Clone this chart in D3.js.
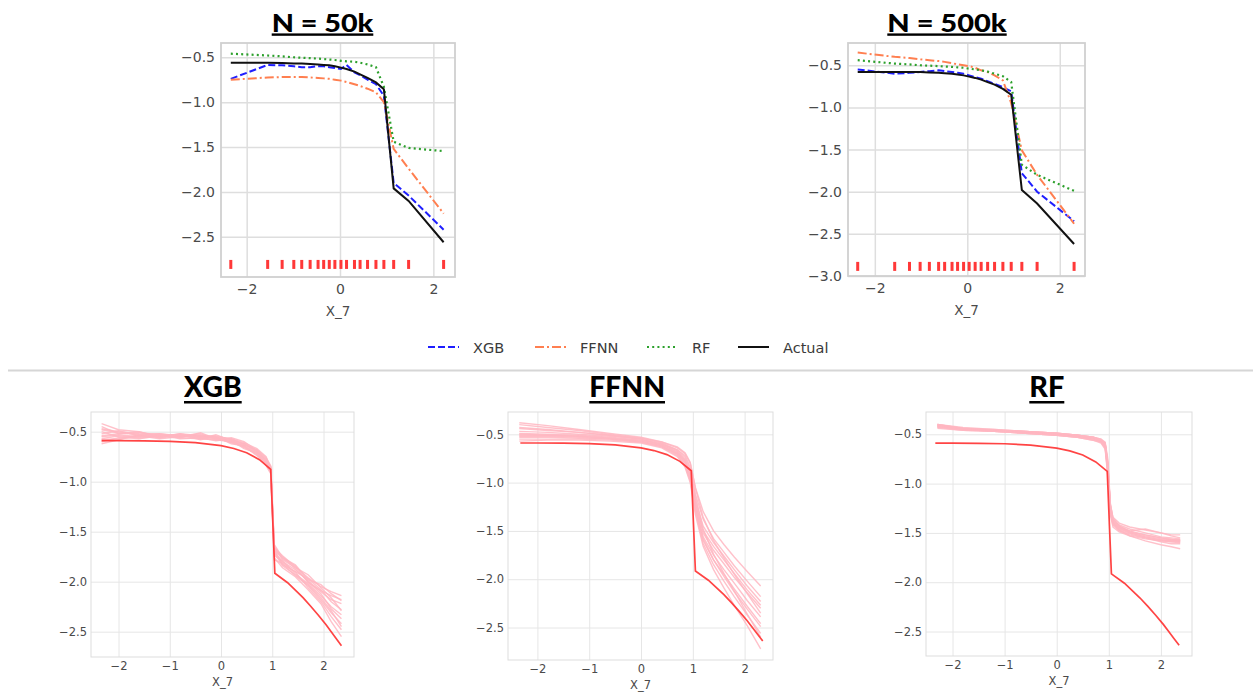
<!DOCTYPE html>
<html><head><meta charset="utf-8">
<script src="https://cdn.jsdelivr.net/npm/d3@7"></script>
<style>
html,body{margin:0;padding:0;background:#fff;}
svg{display:block;}
</style></head>
<body>
<svg id="chart" width="1253" height="692"></svg>
<script>
// ---------------- DATA ----------------
// Top panels: PDP grid points (rug) and curves
const grid50 = [-2.34,-1.55,-1.24,-0.99,-0.82,-0.64,-0.47,-0.35,-0.23,-0.11,0.02,0.14,0.31,0.43,0.59,0.77,0.94,1.15,1.47,2.22];
const actual50 = [-0.56,-0.56,-0.565,-0.57,-0.57,-0.575,-0.58,-0.585,-0.59,-0.60,-0.615,-0.63,-0.66,-0.69,-0.73,-0.78,-0.855,-1.96,-2.10,-2.56];
const xgb50    = [-0.74,-0.585,-0.59,-0.60,-0.61,-0.61,-0.60,-0.60,-0.61,-0.62,-0.63,-0.585,-0.67,-0.70,-0.75,-0.80,-0.93,-1.90,-2.04,-2.42];
const ffnn50   = [-0.75,-0.725,-0.72,-0.72,-0.72,-0.725,-0.73,-0.735,-0.74,-0.75,-0.76,-0.775,-0.80,-0.82,-0.85,-0.89,-1.00,-1.52,-1.74,-2.24];
const rf50     = [-0.46,-0.48,-0.49,-0.50,-0.505,-0.51,-0.515,-0.52,-0.525,-0.53,-0.54,-0.545,-0.55,-0.56,-0.58,-0.61,-0.83,-1.44,-1.51,-1.545];

const grid500 = [-2.37,-1.57,-1.25,-1.02,-0.82,-0.62,-0.49,-0.33,-0.21,-0.08,0.04,0.17,0.30,0.44,0.59,0.77,0.95,1.18,1.51,2.31];
const actual500 = [-0.58,-0.58,-0.58,-0.58,-0.585,-0.59,-0.595,-0.60,-0.61,-0.62,-0.635,-0.65,-0.67,-0.70,-0.73,-0.78,-0.85,-1.98,-2.14,-2.62];
const xgb500    = [-0.55,-0.60,-0.59,-0.58,-0.57,-0.56,-0.57,-0.58,-0.59,-0.60,-0.62,-0.64,-0.66,-0.69,-0.72,-0.76,-0.81,-1.78,-2.00,-2.35];
const ffnn500   = [-0.35,-0.40,-0.415,-0.43,-0.44,-0.45,-0.46,-0.475,-0.49,-0.50,-0.51,-0.53,-0.56,-0.58,-0.62,-0.68,-0.95,-1.51,-1.80,-2.38];
const rf500     = [-0.44,-0.48,-0.49,-0.50,-0.505,-0.51,-0.515,-0.52,-0.525,-0.53,-0.54,-0.55,-0.56,-0.575,-0.60,-0.63,-0.70,-1.68,-1.80,-1.99];

const seriesNames = ["XGB","FFNN","RF","Actual"];
const topTitles = ["N = 50k","N = 500k"];
const bottomTitles = ["XGB","FFNN","RF"];
const xLabel = "X_7";
const xTicksTop = [-2,0,2];
const yTicks50 = [-0.5,-1.0,-1.5,-2.0,-2.5];
const yTicks500 = [-0.5,-1.0,-1.5,-2.0,-2.5,-3.0];
const xTicksBottom = [-2,-1,0,1,2];
const yTicksBottom = [-0.5,-1.0,-1.5,-2.0,-2.5];

// Bottom panels: true effect curve
const actX = [-2.33,-2.0,-1.5,-1.0,-0.5,0,0.25,0.5,0.75,0.97,1.05,1.3,1.45,1.6,1.75,1.9,2.05,2.15,2.25,2.35];
const actY = [-0.59,-0.59,-0.592,-0.596,-0.61,-0.64,-0.668,-0.71,-0.78,-0.877,-1.915,-2.01,-2.085,-2.16,-2.245,-2.335,-2.43,-2.50,-2.57,-2.64];

// Bottom panels: repeated fits
const xgbRunX = [-2.33,-2.0,-1.6,-1.2,-0.8,-0.4,-0.1,0.2,0.45,0.7,0.88,0.97,1.04,1.2,1.45,1.7,1.95,2.15,2.35];
const xgbRuns = [
 [-0.47,-0.50,-0.52,-0.53,-0.54,-0.55,-0.56,-0.58,-0.62,-0.70,-0.78,-0.86,-1.66,-1.74,-1.85,-1.96,-2.05,-2.10,-2.14],
 [-0.55,-0.53,-0.55,-0.54,-0.53,-0.57,-0.58,-0.60,-0.64,-0.71,-0.80,-0.88,-1.70,-1.80,-1.88,-1.99,-2.10,-2.18,-2.22],
 [-0.42,-0.48,-0.50,-0.55,-0.52,-0.54,-0.55,-0.57,-0.63,-0.68,-0.76,-0.84,-1.63,-1.76,-1.83,-1.98,-2.03,-2.12,-2.19],
 [-0.60,-0.56,-0.54,-0.52,-0.55,-0.53,-0.56,-0.61,-0.65,-0.73,-0.82,-0.90,-1.74,-1.79,-1.92,-2.02,-2.14,-2.25,-2.33],
 [-0.50,-0.55,-0.57,-0.54,-0.56,-0.51,-0.57,-0.59,-0.62,-0.69,-0.77,-0.85,-1.68,-1.83,-1.90,-1.97,-2.08,-2.20,-2.28],
 [-0.62,-0.58,-0.53,-0.56,-0.54,-0.55,-0.54,-0.58,-0.66,-0.72,-0.83,-0.91,-1.78,-1.82,-1.94,-2.04,-2.18,-2.31,-2.42],
 [-0.45,-0.52,-0.51,-0.53,-0.57,-0.56,-0.59,-0.57,-0.61,-0.67,-0.75,-0.87,-1.65,-1.78,-1.86,-1.93,-2.06,-2.16,-2.29],
 [-0.57,-0.54,-0.56,-0.55,-0.53,-0.58,-0.55,-0.62,-0.64,-0.74,-0.81,-0.89,-1.72,-1.81,-1.90,-2.06,-2.20,-2.35,-2.48],
 [-0.52,-0.49,-0.54,-0.57,-0.55,-0.54,-0.57,-0.60,-0.63,-0.70,-0.79,-0.86,-1.69,-1.75,-1.87,-2.00,-2.12,-2.27,-2.37],
 [-0.58,-0.57,-0.55,-0.53,-0.56,-0.57,-0.53,-0.59,-0.67,-0.71,-0.84,-0.92,-1.76,-1.86,-1.95,-2.08,-2.22,-2.40,-2.55],
 [-0.48,-0.51,-0.53,-0.52,-0.54,-0.52,-0.58,-0.56,-0.60,-0.69,-0.80,-0.85,-1.67,-1.77,-1.84,-2.01,-2.09,-2.14,-2.18],
 [-0.54,-0.52,-0.50,-0.56,-0.52,-0.56,-0.56,-0.61,-0.65,-0.72,-0.78,-0.88,-1.71,-1.84,-1.93,-2.03,-2.16,-2.29,-2.45]
];
const ffnnRunX = [-2.35,-1.8,-1.2,-0.6,0,0.4,0.7,0.85,0.95,1.05,1.2,1.4,1.6,1.8,2.05,2.31];
const ffnnRuns = [
 [-0.38,-0.41,-0.45,-0.49,-0.53,-0.58,-0.64,-0.70,-0.80,-1.05,-1.30,-1.50,-1.64,-1.77,-1.92,-2.07],
 [-0.40,-0.43,-0.46,-0.50,-0.54,-0.59,-0.66,-0.74,-0.86,-1.12,-1.38,-1.58,-1.72,-1.86,-2.02,-2.18],
 [-0.43,-0.45,-0.48,-0.51,-0.55,-0.60,-0.67,-0.76,-0.90,-1.18,-1.45,-1.62,-1.76,-1.90,-2.07,-2.23],
 [-0.47,-0.48,-0.50,-0.52,-0.55,-0.61,-0.69,-0.78,-0.92,-1.22,-1.50,-1.66,-1.80,-1.94,-2.11,-2.27],
 [-0.49,-0.50,-0.51,-0.53,-0.56,-0.61,-0.68,-0.77,-0.90,-1.20,-1.52,-1.70,-1.84,-1.98,-2.14,-2.30],
 [-0.50,-0.51,-0.52,-0.54,-0.57,-0.62,-0.70,-0.80,-0.95,-1.26,-1.56,-1.75,-1.90,-2.04,-2.22,-2.39],
 [-0.52,-0.52,-0.53,-0.55,-0.57,-0.62,-0.71,-0.82,-0.97,-1.28,-1.60,-1.80,-1.95,-2.10,-2.28,-2.46],
 [-0.53,-0.53,-0.54,-0.55,-0.58,-0.63,-0.70,-0.79,-0.93,-1.24,-1.58,-1.80,-1.97,-2.13,-2.31,-2.49],
 [-0.55,-0.55,-0.55,-0.56,-0.58,-0.63,-0.72,-0.83,-0.98,-1.30,-1.63,-1.85,-2.02,-2.18,-2.37,-2.56],
 [-0.57,-0.56,-0.56,-0.57,-0.59,-0.64,-0.73,-0.84,-1.00,-1.33,-1.66,-1.90,-2.09,-2.27,-2.48,-2.72],
 [-0.44,-0.46,-0.48,-0.51,-0.54,-0.58,-0.63,-0.69,-0.79,-1.06,-1.36,-1.60,-1.78,-1.95,-2.15,-2.35],
 [-0.51,-0.51,-0.52,-0.54,-0.56,-0.60,-0.66,-0.72,-0.84,-1.14,-1.48,-1.74,-1.94,-2.12,-2.36,-2.60]
];
const rfRunX = [-2.29,-1.8,-1.2,-0.6,0,0.4,0.7,0.85,0.93,0.98,1.03,1.08,1.2,1.4,1.7,2.0,2.2,2.37];
const rfRuns = [
 [-0.40,-0.44,-0.46,-0.47,-0.49,-0.51,-0.53,-0.55,-0.58,-0.75,-1.20,-1.36,-1.42,-1.46,-1.50,-1.54,-1.55,-1.56],
 [-0.41,-0.44,-0.46,-0.48,-0.50,-0.52,-0.54,-0.56,-0.60,-0.80,-1.25,-1.38,-1.44,-1.48,-1.52,-1.55,-1.57,-1.58],
 [-0.42,-0.45,-0.47,-0.48,-0.50,-0.52,-0.55,-0.57,-0.62,-0.85,-1.28,-1.40,-1.46,-1.50,-1.54,-1.57,-1.58,-1.59],
 [-0.43,-0.45,-0.47,-0.49,-0.51,-0.53,-0.55,-0.58,-0.63,-0.90,-1.30,-1.42,-1.48,-1.52,-1.55,-1.58,-1.59,-1.60],
 [-0.41,-0.45,-0.46,-0.48,-0.50,-0.52,-0.54,-0.56,-0.61,-0.82,-1.22,-1.34,-1.40,-1.44,-1.47,-1.50,-1.52,-1.52],
 [-0.42,-0.44,-0.46,-0.48,-0.50,-0.51,-0.53,-0.56,-0.59,-0.78,-1.26,-1.40,-1.47,-1.53,-1.58,-1.62,-1.64,-1.66],
 [-0.40,-0.44,-0.45,-0.47,-0.49,-0.51,-0.54,-0.57,-0.60,-0.83,-1.24,-1.37,-1.43,-1.48,-1.46,-1.50,-1.53,-1.55],
 [-0.43,-0.46,-0.47,-0.49,-0.51,-0.53,-0.56,-0.58,-0.64,-0.88,-1.32,-1.44,-1.49,-1.53,-1.56,-1.58,-1.58,-1.57],
 [-0.42,-0.45,-0.46,-0.48,-0.50,-0.52,-0.54,-0.57,-0.62,-0.86,-1.27,-1.41,-1.47,-1.51,-1.55,-1.59,-1.61,-1.61],
 [-0.41,-0.44,-0.46,-0.47,-0.49,-0.51,-0.53,-0.55,-0.59,-0.79,-1.23,-1.39,-1.45,-1.49,-1.53,-1.56,-1.57,-1.57],
 [-0.44,-0.46,-0.47,-0.49,-0.51,-0.53,-0.56,-0.59,-0.65,-0.92,-1.29,-1.39,-1.45,-1.50,-1.54,-1.57,-1.59,-1.59],
 [-0.40,-0.43,-0.45,-0.47,-0.49,-0.51,-0.53,-0.56,-0.60,-0.81,-1.21,-1.35,-1.43,-1.49,-1.52,-1.55,-1.56,-1.58]
];

// ---------------- STYLE / LAYOUT ----------------
const styles = {
  XGB:    {color:"#1f1fff", dash:"7,3",      width:2},
  FFNN:   {color:"#ff7f50", dash:"9,3,2,3",  width:2},
  RF:     {color:"#2ca02c", dash:"2,3.2",    width:2.2},
  Actual: {color:"#111111", dash:null,       width:2}
};
const FONT = "'DejaVu Sans', sans-serif";
const TITLE_FONT = "Lato, 'Open Sans', sans-serif";
const svg = d3.select("#chart");

function panel(o){
  const g = svg.append("g").attr("transform",`translate(${o.left},${o.top})`);
  const w = o.right-o.left, h = o.bottom-o.top;
  const x = d3.scaleLinear().domain(o.xd).range([0,w]);
  const y = d3.scaleLinear().domain(o.yd).range([h,0]);
  const xa = g.append("g").attr("transform",`translate(0,${h})`)
    .call(d3.axisBottom(x).tickValues(o.xt).tickSize(-h).tickPadding(o.padX).tickFormat(d3.format("d")));
  const ya = g.append("g")
    .call(d3.axisLeft(y).tickValues(o.yt).tickSize(-w).tickPadding(o.padY).tickFormat(d3.format(".1f")));
  [xa,ya].forEach(a=>{
    a.select(".domain").remove();
    a.selectAll(".tick line").attr("stroke",o.gridColor).attr("stroke-width",o.gridW);
    a.selectAll(".tick text").attr("fill","#4a4a4a").style("font-family",FONT).style("font-size",o.fs+"px");
  });
  g.append("rect").attr("width",w).attr("height",h).attr("fill","none")
    .attr("stroke",o.frameColor).attr("stroke-width",o.frameW);
  g.append("text").attr("x",w/2).attr("y",h+o.labelDy).attr("text-anchor","middle")
    .attr("fill","#4a4a4a").style("font-family",FONT).style("font-size",o.labelFs+"px").text(xLabel);
  return {g,x,y,w,h};
}

function title(txt, x0, x1, base, ulY, ulH, fs){
  svg.append("text").attr("x",x0).attr("y",base)
    .attr("textLength",x1-x0).attr("lengthAdjust","spacingAndGlyphs")
    .style("font-family",TITLE_FONT).style("font-weight","900").style("font-size",fs+"px")
    .attr("fill","#000").text(txt);
  svg.append("rect").attr("x",x0).attr("y",ulY).attr("width",x1-x0).attr("height",ulH).attr("fill","#000");
}

function topPanel(o, grid, series, rugY){
  const p = panel(Object.assign({xt:xTicksTop,padX:7,padY:6,fs:14,labelFs:13.5,labelDy:39,
      gridColor:"#dedede",gridW:1.5,frameColor:"#d0d0d0",frameW:1.8}, o));
  const line = d3.line().x(d=>p.x(d[0])).y(d=>p.y(d[1]));
  seriesNames.forEach((name,i)=>{
    const s = styles[name];
    p.g.append("path").datum(grid.map((gx,k)=>[gx,series[i][k]]))
      .attr("d",line).attr("fill","none").attr("stroke",s.color).attr("stroke-width",s.width)
      .attr("stroke-dasharray",s.dash);
  });
  p.g.selectAll("rect.rug").data(grid).enter().append("rect").attr("class","rug")
    .attr("x",d=>p.x(d)-1.5).attr("y",p.y(rugY)-4.5).attr("width",3).attr("height",9)
    .attr("fill","#ff3838");
}

function bottomPanel(o, runX, runs){
  const p = panel(Object.assign({xt:xTicksBottom,yt:yTicksBottom,padX:5,padY:4,fs:11.5,labelFs:11.5,labelDy:29,
      gridColor:"#e6e6e6",gridW:1,frameColor:"#dddddd",frameW:1}, o));
  const line = d3.line().x(d=>p.x(d[0])).y(d=>p.y(d[1]));
  runs.forEach(r=>{
    p.g.append("path").datum(runX.map((rx,k)=>[rx,r[k]])).attr("d",line)
      .attr("fill","none").attr("stroke","#ffb6c1").attr("stroke-opacity",0.85).attr("stroke-width",1.4);
  });
  p.g.append("path").datum(actX.map((ax,k)=>[ax,actY[k]])).attr("d",line)
    .attr("fill","none").attr("stroke","#ff3030").attr("stroke-opacity",0.9).attr("stroke-width",1.7);
}

// ---------------- TOP ROW ----------------
topPanel({left:221,right:455,top:43,bottom:277,xd:[-2.55,2.464],yd:[-2.947,-0.341],yt:yTicks50},
  grid50,[xgb50,ffnn50,rf50,actual50],-2.807);
topPanel({left:848,right:1085,top:43,bottom:276,xd:[-2.58,2.546],yd:[-3.0,-0.236],yt:yTicks500},
  grid500,[xgb500,ffnn500,rf500,actual500],-2.886);
title(topTitles[0],271.7,373.3,32,33.4,2.4,24);
title(topTitles[1],887.3,1006.7,32,33.4,2.4,24);

// ---------------- LEGEND ----------------
const legendX = [428,535,647,738];
seriesNames.forEach((name,i)=>{
  const s = styles[name];
  svg.append("line").attr("x1",legendX[i]).attr("x2",legendX[i]+31).attr("y1",347).attr("y2",347)
    .attr("stroke",s.color).attr("stroke-width",s.width).attr("stroke-dasharray",s.dash);
  svg.append("text").attr("x",legendX[i]+45).attr("y",353).attr("fill","#3a3a3a")
    .style("font-family",FONT).style("font-size","14.5px").text(name);
});
svg.append("line").attr("x1",8).attr("x2",1253).attr("y1",370.5).attr("y2",370.5)
  .attr("stroke","#d6d6d6").attr("stroke-width",2);

// ---------------- BOTTOM ROW ----------------
bottomPanel({left:91,right:354,top:412,bottom:657,xd:[-2.537,2.595],yd:[-2.753,-0.303]}, xgbRunX, xgbRuns);
bottomPanel({left:508,right:773,top:412,bottom:660,xd:[-2.568,2.548],yd:[-2.836,-0.269]}, ffnnRunX, ffnnRuns);
bottomPanel({left:926,right:1192,top:412,bottom:656,xd:[-2.509,2.597],yd:[-2.748,-0.274]}, rfRunX, rfRuns);
title(bottomTitles[0],184,241.7,397,401,2.5,28);
title(bottomTitles[1],589.3,665,397,401,2.5,28);
title(bottomTitles[2],1029.3,1064.3,397,401,2.5,28);
</script>
</body></html>
